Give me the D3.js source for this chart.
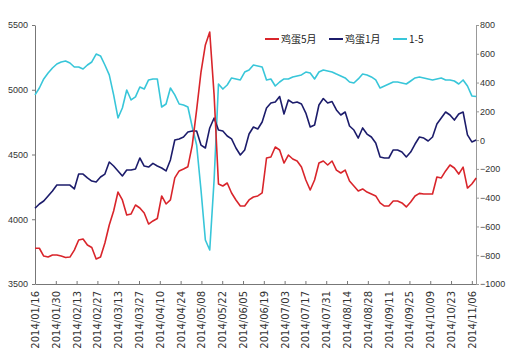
<!DOCTYPE html>
<html>
<head>
<meta charset="utf-8">
<script src="https://cdn.jsdelivr.net/npm/d3@7"></script>
<style>
  body { margin: 0; background: #fff; }
  #chart { width: 507px; height: 363px; }
  .axis text { font-family: "Liberation Sans", sans-serif; font-size: 9px; fill: #333; }
  .axis.x text { font-family: "DejaVu Sans", sans-serif; font-size: 10px; }
  .legend text { font-family: "Noto Sans CJK SC", sans-serif; font-size: 10px; fill: #222; }
</style>
</head>
<body>
<div id="chart"></div>
<script>
// tick labels on the date axis, one every 10 trading days
var dateLabels = ["2014/01/16","2014/01/30","2014/02/13","2014/02/27","2014/03/13","2014/03/27",
  "2014/04/10","2014/04/24","2014/05/08","2014/05/22","2014/06/05","2014/06/19","2014/07/03",
  "2014/07/17","2014/07/31","2014/08/14","2014/08/28","2014/09/11","2014/09/25","2014/10/09",
  "2014/10/23","2014/11/06"];
var seriesNames = ["鸡蛋5月", "鸡蛋1月", "1-5"];
var leftTicks = [3500, 4000, 4500, 5000, 5500];
var rightTicks = [-1000, -800, -600, -400, -200, 0, 200, 400, 600, 800];
var lastDay = 212, sampleStep = 2.1;   // values below are read about every 2nd trading day

var may = [3776,3776,3716,3708,3724,3724,3716,3705,3708,3762,3840,3847,3801,3782,3693,3708,3817,3956,4064,4210,
  4149,4033,4041,4110,4087,4048,3963,3987,4006,4180,4118,4149,4319,4373,4388,4406,4573,4844,5137,5346,
  5446,4960,4272,4257,4280,4203,4149,4102,4102,4149,4172,4180,4203,4473,4481,4558,4535,4434,4496,4465,
  4450,4403,4303,4226,4303,4434,4450,4419,4450,4380,4357,4380,4295,4257,4218,4234,4210,4195,4180,4126,
  4102,4102,4141,4141,4126,4095,4133,4180,4200,4195,4195,4195,4326,4319,4373,4419,4396,4349,4403,4241,
  4272,4319];
var jan = [4085,4118,4141,4180,4218,4264,4264,4264,4264,4234,4349,4349,4319,4295,4288,4326,4349,4442,4411,4373,
  4334,4380,4380,4388,4473,4411,4403,4431,4411,4396,4373,4458,4612,4620,4635,4674,4681,4681,4573,4550,
  4705,4782,4689,4681,4643,4620,4550,4496,4535,4658,4712,4697,4751,4859,4898,4905,4948,4813,4921,4898,
  4905,4890,4820,4712,4728,4882,4932,4898,4909,4844,4805,4828,4720,4689,4627,4705,4658,4635,4589,4481,
  4473,4473,4535,4535,4519,4481,4519,4581,4635,4627,4604,4635,4736,4782,4828,4805,4766,4813,4828,4651,
  4597,4612];
var spread = [314,362,425,466,501,529,543,550,536,508,508,494,522,543,598,585,522,453,314,154,
  223,348,279,300,369,355,418,425,425,230,251,362,314,251,244,230,91,-34,-347,-694,
  -764,-277,390,355,383,432,425,418,473,487,522,515,508,418,425,376,404,425,425,439,
  446,453,473,466,425,473,487,480,473,459,446,432,404,397,425,459,453,439,418,362,
  376,390,404,404,397,390,411,432,439,432,425,418,425,432,418,418,411,390,418,376,
  307,303];

var colors = ["#d9252b", "#1c1c6b", "#38c6d9"];

var margin = {top: 25, right: 31, bottom: 79, left: 35},
    width = 507 - margin.left - margin.right,
    height = 363 - margin.top - margin.bottom;

var svg = d3.select("#chart").append("svg")
  .attr("width", 507)
  .attr("height", 363);

var g = svg.append("g")
  .attr("transform", "translate(" + margin.left + "," + margin.top + ")");

var x = d3.scaleLinear().domain([0, lastDay]).range([0, width]);
var yL = d3.scaleLinear().domain([3500, 5500]).range([height, 0]);
var yR = d3.scaleLinear().domain([-1000, 800]).range([height, 0]);

// axes
var xAxis = g.append("g")
  .attr("class", "axis x")
  .attr("transform", "translate(0," + height + ")")
  .call(d3.axisBottom(x)
    .tickValues(dateLabels.map(function(d, i) { return i * 10; }))
    .tickFormat(function(d) { return dateLabels[d / 10]; })
    .tickSize(-3)
    .tickSizeOuter(0));

xAxis.selectAll("text")
  .attr("transform", "rotate(-90)")
  .attr("text-anchor", "end")
  .attr("x", -7)
  .attr("y", 0)
  .attr("dy", "0.35em");

g.append("g")
  .attr("class", "axis yl")
  .call(d3.axisLeft(yL).tickValues(leftTicks).tickFormat(d3.format("d")).tickSize(3).tickSizeOuter(0))
  .selectAll("text").attr("x", -7);

g.append("g")
  .attr("class", "axis yr")
  .attr("transform", "translate(" + width + ",0)")
  .call(d3.axisRight(yR).tickValues(rightTicks).tickFormat(d3.format("d")).tickSize(3).tickSizeOuter(0))
  .selectAll("text").attr("x", 4);

g.selectAll(".axis path, .axis line").attr("stroke", "#777");
g.selectAll(".axis.yr path, .axis.yr line").attr("stroke", "#999");

// lines
var lineL = d3.line()
  .x(function(d, i) { return x(i * sampleStep); })
  .y(function(d) { return yL(d); });
var lineR = d3.line()
  .x(function(d, i) { return x(i * sampleStep); })
  .y(function(d) { return yR(d); });

g.append("path").datum(spread)
  .attr("fill", "none").attr("stroke", colors[2]).attr("stroke-width", 1.6)
  .attr("stroke-linejoin", "round").attr("d", lineR);
g.append("path").datum(jan)
  .attr("fill", "none").attr("stroke", colors[1]).attr("stroke-width", 1.6)
  .attr("stroke-linejoin", "round").attr("d", lineL);
g.append("path").datum(may)
  .attr("fill", "none").attr("stroke", colors[0]).attr("stroke-width", 1.6)
  .attr("stroke-linejoin", "round").attr("d", lineL);

// legend
var legendX = [265, 329, 393];
var legend = svg.append("g").attr("class", "legend")
  .selectAll("g")
  .data(seriesNames)
  .enter()
  .append("g")
  .attr("transform", function(d, i) { return "translate(" + legendX[i] + ",39)"; });

legend.append("line")
  .attr("x1", 0).attr("x2", 14)
  .attr("stroke", function(d, i) { return colors[i]; })
  .attr("stroke-width", 2);

legend.append("text")
  .attr("x", 16)
  .attr("dy", "0.35em")
  .text(function(d) { return d; });
</script>
</body>
</html>
